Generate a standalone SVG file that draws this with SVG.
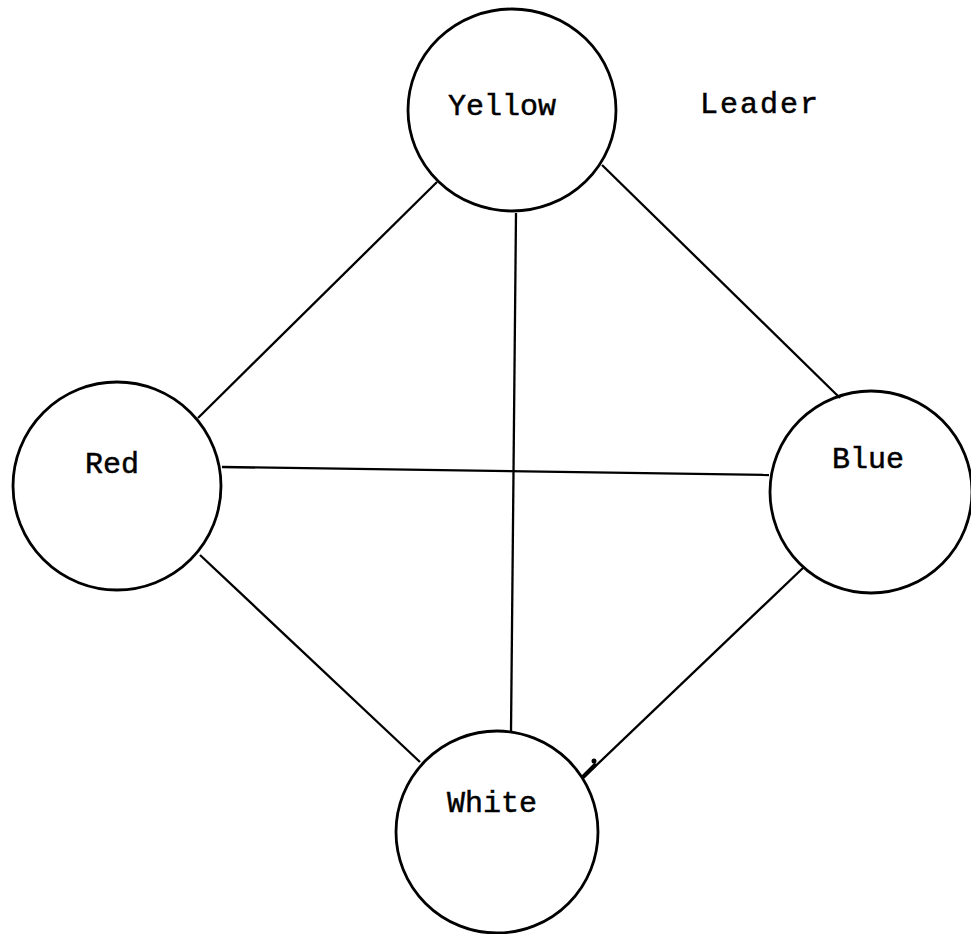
<svg xmlns="http://www.w3.org/2000/svg" width="971" height="934" viewBox="0 0 971 934">
<style>
.n{fill:none;stroke:#000;stroke-width:2.8}
.e{stroke:#000;stroke-width:2.3;fill:none}
text{font-family:"Liberation Mono","Courier New",monospace;font-size:30px;fill:#000;stroke:#000;stroke-width:0.5;text-anchor:middle}
</style>
<rect width="971" height="934" fill="#fff"/>
<g id="connectors">
<line class="e" x1="437" y1="182" x2="198" y2="418"/>
<line class="e" x1="516" y1="213" x2="511" y2="732"/>
<line class="e" x1="602" y1="165" x2="840" y2="398"/>
<line class="e" x1="222" y1="467" x2="769" y2="475"/>
<line class="e" x1="200" y1="555" x2="420" y2="762"/>
<line class="e" x1="804" y1="567" x2="583" y2="778"/>
<line stroke="#000" stroke-width="4" x1="583" y1="777" x2="596" y2="764"/>
<circle cx="594" cy="761" r="2.5" fill="#000"/>
</g>
<g id="yellow"><ellipse class="n" cx="512" cy="110" rx="104" ry="101"/><text x="502" y="115">Yellow</text></g>
<g id="red"><circle class="n" cx="117" cy="486" r="104"/><text x="112" y="473">Red</text></g>
<g id="blue"><circle class="n" cx="871" cy="492" r="101"/><text x="868" y="468">Blue</text></g>
<g id="white"><circle class="n" cx="497" cy="832" r="101"/><text x="492" y="812">White</text></g>
<g id="leader"><text x="760" y="113" letter-spacing="2">Leader</text></g>
</svg>
